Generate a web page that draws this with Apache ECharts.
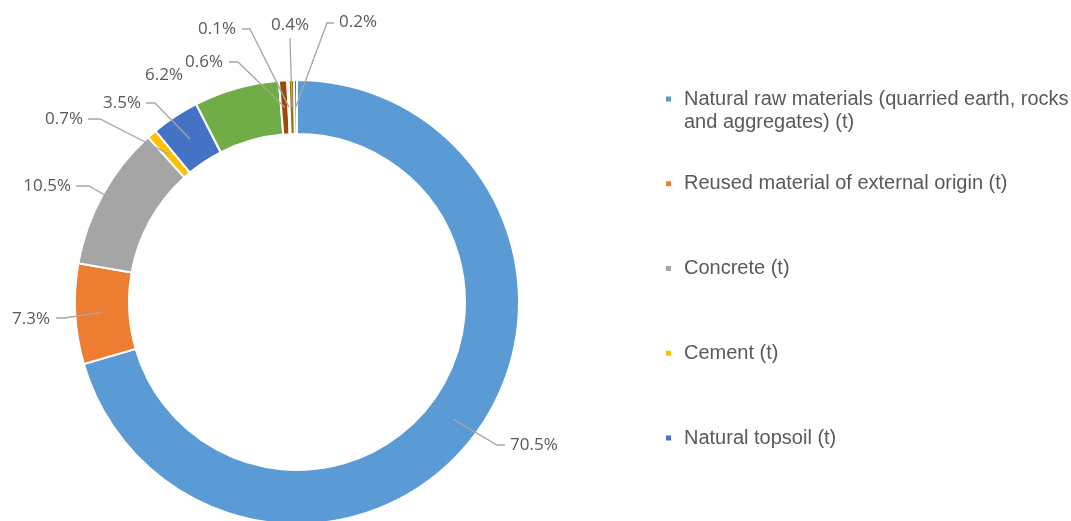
<!DOCTYPE html>
<html>
<head>
<meta charset="utf-8">
<script src="https://cdn.jsdelivr.net/npm/echarts@6/dist/echarts.min.js"></script>
<style>
  html, body { margin: 0; padding: 0; background: #ffffff; }
  #chart { width: 1071px; height: 521px; }
</style>
</head>
<body>
<div id="chart"></div>
<script>
// Material categories, in drawing order (clockwise from 12 o'clock)
const categories = [
  'Natural raw materials (quarried earth, rocks and aggregates) (t)',
  'Reused material of external origin (t)',
  'Concrete (t)',
  'Cement (t)',
  'Natural topsoil (t)',
  'Other material 6 (t)',
  'Other material 7 (t)',
  'Other material 8 (t)',
  'Other material 9 (t)',
  'Other material 10 (t)'
];

// Share of total material use, in percent
const shares = [70.5, 7.3, 10.5, 0.7, 3.5, 6.2, 0.6, 0.1, 0.4, 0.2];

// Slice colours
const colors = ['#5B9BD5', '#ED7D31', '#A5A5A5', '#FFC000', '#4472C4',
                '#70AD47', '#9E480E', '#636363', '#997300', '#264478'];

// Number of categories listed in the legend
const legendCount = 5;

// Ring geometry
const CX = 297, CY = 302, R_IN = 168, R_OUT = 222;

// Label anchors and leader-line bends (pixels)
const labelSpots = [
  { x: 510, y: 445, align: 'left',   line: [[497, 445], [505, 445]] },
  { x: 50,  y: 319, align: 'right',  line: [[64, 318], [56, 318]] },
  { x: 71,  y: 186, align: 'right',  line: [[89, 186], [76, 186]] },
  { x: 83,  y: 119, align: 'right',  line: [[100, 119], [88, 119]] },
  { x: 141, y: 103, align: 'right',  line: [[155, 103], [146, 103]] },
  { x: 164, y: 75,  align: 'center', line: null },
  { x: 223, y: 62,  align: 'right',  line: [[238, 62], [229, 62]] },
  { x: 236, y: 29,  align: 'right',  line: [[250, 29], [242, 29]] },
  { x: 290, y: 25,  align: 'center', line: [[290, 40], [290, 38]] },
  { x: 339, y: 22,  align: 'left',   line: [[327, 23], [334, 23]] }
];

const total = shares.reduce((a, b) => a + b, 0);

// Point in the middle of the ring at a slice's mid-angle
function ringPoint(i) {
  let before = 0;
  for (let k = 0; k < i; k++) before += shares[k];
  const frac = (before + shares[i] / 2) / total;
  const theta = (90 - frac * 360) * Math.PI / 180;
  const r = (R_IN + R_OUT) / 2;
  return [CX + r * Math.cos(theta), CY - r * Math.sin(theta)];
}

const ringData = categories.map((name, i) => ({
  name: name, value: shares[i], itemStyle: { color: colors[i] }
}));

// Same slices again, invisible, carrying the labels so leader lines sit on top of the ring
const labelData = categories.map((name, i) => {
  const item = { name: name, value: shares[i] };
  if (!labelSpots[i].line) item.labelLine = { show: false };
  return item;
});

const LINE_H = 23;

const legends = categories.slice(0, legendCount).map((name, i) => {
  const firstLineY = 99 + i * 84.75;
  const wrapped = i === 0;
  return {
    orient: 'vertical',
    left: 664,
    top: wrapped ? firstLineY - 1.5 * LINE_H : firstLineY - 0.5 * LINE_H,
    padding: 0,
    icon: 'rect',
    itemWidth: 7,
    itemHeight: 7,
    selectedMode: false,
    data: [name],
    // a leading empty line keeps the marker level with the first text line
    formatter: n => (wrapped ? '\n' : '') + n,
    textStyle: {
      color: '#595959',
      fontFamily: '"Liberation Sans", Arial, sans-serif',
      fontSize: 20,
      lineHeight: LINE_H,
      width: 392,
      overflow: 'break',
      padding: [0, 0, 0, 7]
    }
  };
});

const chart = echarts.init(document.getElementById('chart'), null, { renderer: 'canvas' });

chart.setOption({
  backgroundColor: '#ffffff',
  animation: false,
  legend: legends,
  series: [{
    type: 'pie',
    z: 2,
    center: [CX, CY],
    radius: [R_IN, R_OUT],
    startAngle: 90,
    clockwise: true,
    silent: true,
    emphasis: { disabled: true },
    itemStyle: { borderColor: '#ffffff', borderWidth: 2 },
    label: { show: false },
    labelLine: { show: false },
    data: ringData
  }, {
    type: 'pie',
    z: 3,
    center: [CX, CY],
    radius: [R_IN, R_OUT],
    startAngle: 90,
    clockwise: true,
    silent: true,
    avoidLabelOverlap: false,
    emphasis: { disabled: true },
    itemStyle: { color: 'rgba(0,0,0,0)', borderWidth: 0 },
    label: {
      show: true,
      position: 'outside',
      color: '#595959',
      fontFamily: '"Open Sans", "Noto Sans", sans-serif',
      fontSize: 17,
      formatter: p => p.value.toFixed(1) + '%'
    },
    labelLine: {
      show: true,
      lineStyle: { color: '#A6A6A6', width: 1.3 }
    },
    labelLayout: function (params) {
      const s = labelSpots[params.dataIndex];
      const out = { x: s.x, y: s.y, align: s.align, verticalAlign: 'middle' };
      if (s.line) {
        out.labelLinePoints = [ringPoint(params.dataIndex)].concat(s.line);
      }
      return out;
    },
    data: labelData
  }]
});
</script>
</body>
</html>
